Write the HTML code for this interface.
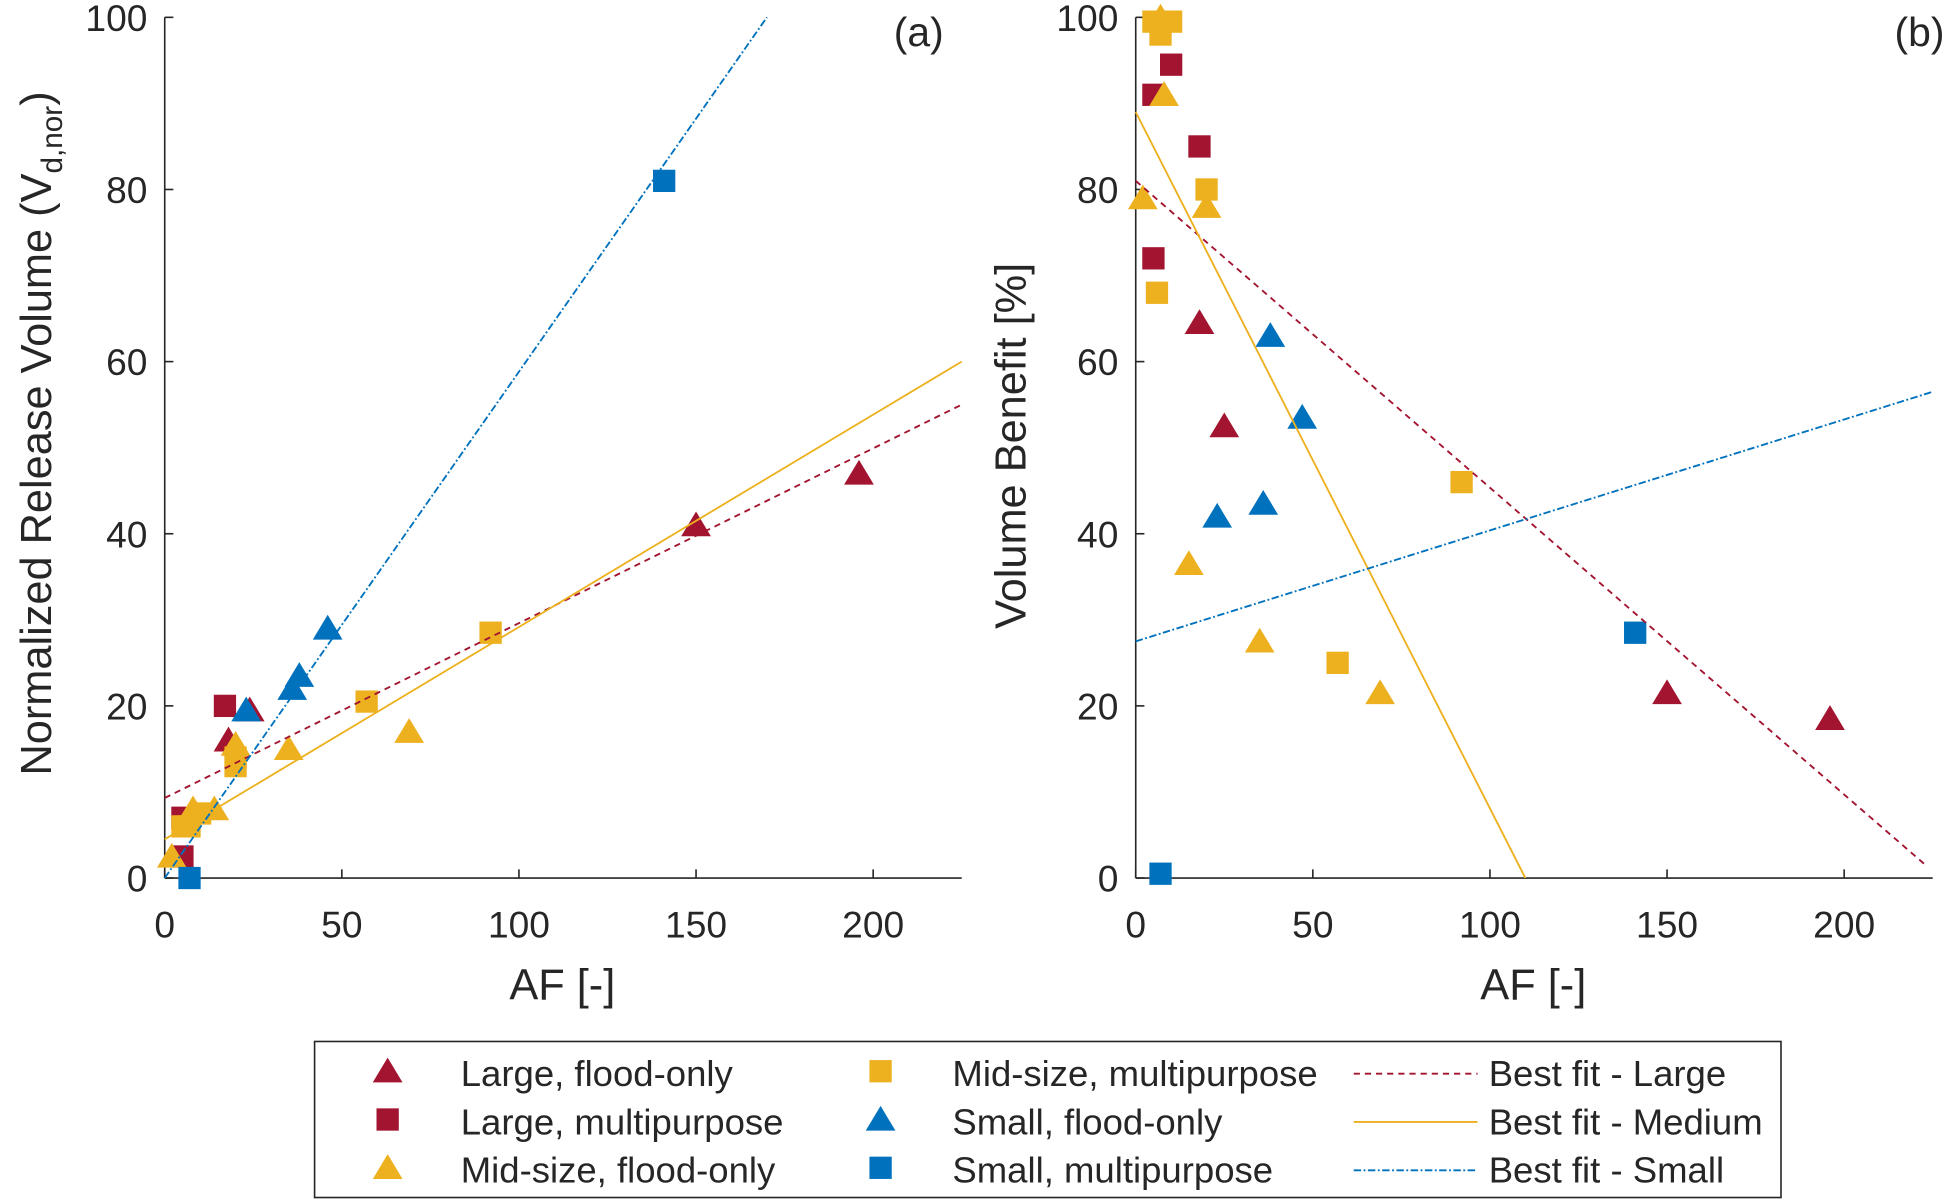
<!DOCTYPE html>
<html><head><meta charset="utf-8"><style>
html,body{margin:0;padding:0;background:#fff}
svg{display:block}
text{font-family:"Liberation Sans",Arial,sans-serif;fill:#262626}
</style></head><body>
<svg id="fig" width="1942" height="1200" viewBox="0 0 1568 969" preserveAspectRatio="none" xmlns="http://www.w3.org/2000/svg">
<g id="pa"></g>
<g id="pb"></g>
<g id="leg"></g>
</svg>
<script>
const seriesNames = ["Large, flood-only","Large, multipurpose","Mid-size, flood-only","Mid-size, multipurpose","Small, flood-only","Small, multipurpose"];
const seriesColors = ["#A2142F","#A2142F","#EDB120","#EDB120","#0072BD","#0072BD"];
const seriesShapes = ["tri","sq","tri","sq","tri","sq"];
const xTicks = [0,50,100,150,200];
const yTicks = [0,20,40,60,80,100];
// Panel (a): AF values and normalized release volume
const aLargeFloodAF = [150,196,24,18];
const aLargeFloodV = [41,47,19.5,16];
const aLargeMultiAF = [17,5,5];
const aLargeMultiV = [20,7,2.5];
const aMidFloodAF = [69,35,20,14,2,8];
const aMidFloodV = [17,15,15.5,8,2.5,8];
const aMidMultiAF = [92,57,20,20,10,7,5];
const aMidMultiV = [28.5,20.5,13,14,7.5,6,6];
const aSmallFloodAF = [46,38,36,23];
const aSmallFloodV = [29,23.5,22,19.5];
const aSmallMultiAF = [141,7];
const aSmallMultiV = [81,0];
// Panel (b): AF values and volume benefit
const bLargeFloodAF = [150,196,25,18];
const bLargeFloodB = [21.5,18.5,52.5,64.5];
const bLargeMultiAF = [10,18,5,5];
const bLargeMultiB = [94.5,85,72,91];
const bMidFloodAF = [2,20,8,15,35,69,7];
const bMidFloodB = [79,78,91,36.5,27.5,21.5,100];
const bMidMultiAF = [92,57,6,20,7,10,5];
const bMidMultiB = [46,25,68,80,98,99.5,99.5];
const bSmallFloodAF = [38,47,23,36];
const bSmallFloodB = [63,53.5,42,43.5];
const bSmallMultiAF = [141,7];
const bSmallMultiB = [28.5,0.5];
// fit lines: [x0,y0,x1,y1]
const aFitLarge = [0,9.3,225,55];
const aFitMedium = [0,4.5,225,60];
const aFitSmall = [0,0,170,100];
const bFitLarge = [0,81,223,1.5];
const bFitMedium = [0,89,110,0];
const bFitSmall = [0,27.5,225,56.5];

const NS="http://www.w3.org/2000/svg";
function mk(tag,attrs,parent){const e=document.createElementNS(NS,tag);for(const k in attrs)e.setAttribute(k,attrs[k]);parent.appendChild(e);return e;}
const dashes={large:"5,4",medium:"",small:"6,2,1.5,2"};
const fitColors={large:"#A2142F",medium:"#EDB120",small:"#0072BD"};

function marker(shape,color,cx,cy,parent){
  let e;
  if(shape==="tri"){e=mk("polygon",{points:`${cx},${cy-11} ${cx-12},${cy+9} ${cx+12},${cy+9}`,fill:color},parent);}
  else{e=mk("rect",{x:cx-9,y:cy-9,width:18,height:18,fill:color},parent);}
  return e;
}

function panel(g,x0px,label,ylabel,series,fits,labx){
  const xs=v=>x0px+v*2.86, ys=v=>709-v*6.95;
  mk("line",{x1:x0px,y1:709,x2:x0px+225*2.86,y2:709,stroke:"#262626","stroke-width":1.3},g);
  mk("line",{x1:x0px,y1:709,x2:x0px,y2:14,stroke:"#262626","stroke-width":1.3},g);
  xTicks.forEach(t=>{
    const tk=mk("line",{x1:xs(t),y1:709,x2:xs(t),y2:702,stroke:"#262626","stroke-width":1.3},g);
    
    
    const tl=mk("text",{x:xs(t),y:757,"font-size":30,"text-anchor":"middle"},g);tl.textContent=t;
    
    
  });
  yTicks.forEach(t=>{
    const tk=mk("line",{x1:x0px,y1:ys(t),x2:x0px+7,y2:ys(t),stroke:"#262626","stroke-width":1.3},g);
    
    
    const tl=mk("text",{x:x0px-14,y:ys(t)+11,"font-size":30,"text-anchor":"end"},g);tl.textContent=t;
    
    
  });
  series.forEach((s,i)=>{
    s[0].forEach((xv,j)=>{
      const m=marker(seriesShapes[i],seriesColors[i],xs(xv),ys(s[1][j]),g);
      
      
    });
  });
  fits.forEach(f=>{
    const a=mk("line",{x1:xs(f[0][0]),y1:ys(f[0][1]),x2:xs(f[0][2]),y2:ys(f[0][3]),stroke:fitColors[f[1]],"stroke-width":1.5,"stroke-dasharray":dashes[f[1]]},g);
    
    
  });
  const pl=mk("text",{x:labx,y:37,"font-size":33,"text-anchor":"end",fill:"#000"},g);pl.textContent=label;
  
  
  const xl=mk("text",{x:x0px+321,y:807,"font-size":35,"text-anchor":"middle"},g);xl.textContent="AF [-]";
  
  
  const yl=mk("text",{x:0,y:0,"font-size":35,"text-anchor":"middle",transform:ylabel[1]},g);
  
  
  yl.innerHTML=ylabel[0];
}
panel(document.getElementById("pa"),133,"(a)",
 ['Normalized Release Volume (V<tspan font-size="24" dy="9">d,nor</tspan><tspan dy="-9">)</tspan>',"translate(41,350) rotate(-90)"],
 [[aLargeFloodAF,aLargeFloodV],[aLargeMultiAF,aLargeMultiV],[aMidFloodAF,aMidFloodV],[aMidMultiAF,aMidMultiV],[aSmallFloodAF,aSmallFloodV],[aSmallMultiAF,aSmallMultiV]],
 [[aFitLarge,"large"],[aFitMedium,"medium"],[aFitSmall,"small"]],762);
panel(document.getElementById("pb"),917,"(b)",
 ["Volume Benefit [%]","translate(828,360) rotate(-90)"],
 [[bLargeFloodAF,bLargeFloodB],[bLargeMultiAF,bLargeMultiB],[bMidFloodAF,bMidFloodB],[bMidMultiAF,bMidMultiB],[bSmallFloodAF,bSmallFloodB],[bSmallMultiAF,bSmallMultiB]],
 [[bFitLarge,"large"],[bFitMedium,"medium"],[bFitSmall,"small"]],1570);

const leg=document.getElementById("leg");
mk("rect",{x:254,y:841,width:1184,height:126,fill:"#fff",stroke:"#262626","stroke-width":1.3},leg);
const rowsY=[867,906,945];
seriesNames.forEach((n,i)=>{
  const col=Math.floor(i/3), r=i%3;
  const mx=col?711:313;
  const m=marker(seriesShapes[i],seriesColors[i],mx,rowsY[r]-2,leg);
  
  
  const t=mk("text",{x:col?769:372,y:rowsY[r]+10,"font-size":29.5,fill:"#000"},leg);t.textContent=n;
  
  
});
[["Best fit - Large","large"],["Best fit - Medium","medium"],["Best fit - Small","small"]].forEach((f,r)=>{
  const l=mk("line",{x1:1093,y1:rowsY[r],x2:1193,y2:rowsY[r],stroke:fitColors[f[1]],"stroke-width":1.5,"stroke-dasharray":dashes[f[1]]},leg);
  
  
  const t=mk("text",{x:1202,y:rowsY[r]+10,"font-size":29.5,fill:"#000"},leg);t.textContent=f[0];
  
  
});
</script>
</body></html>
